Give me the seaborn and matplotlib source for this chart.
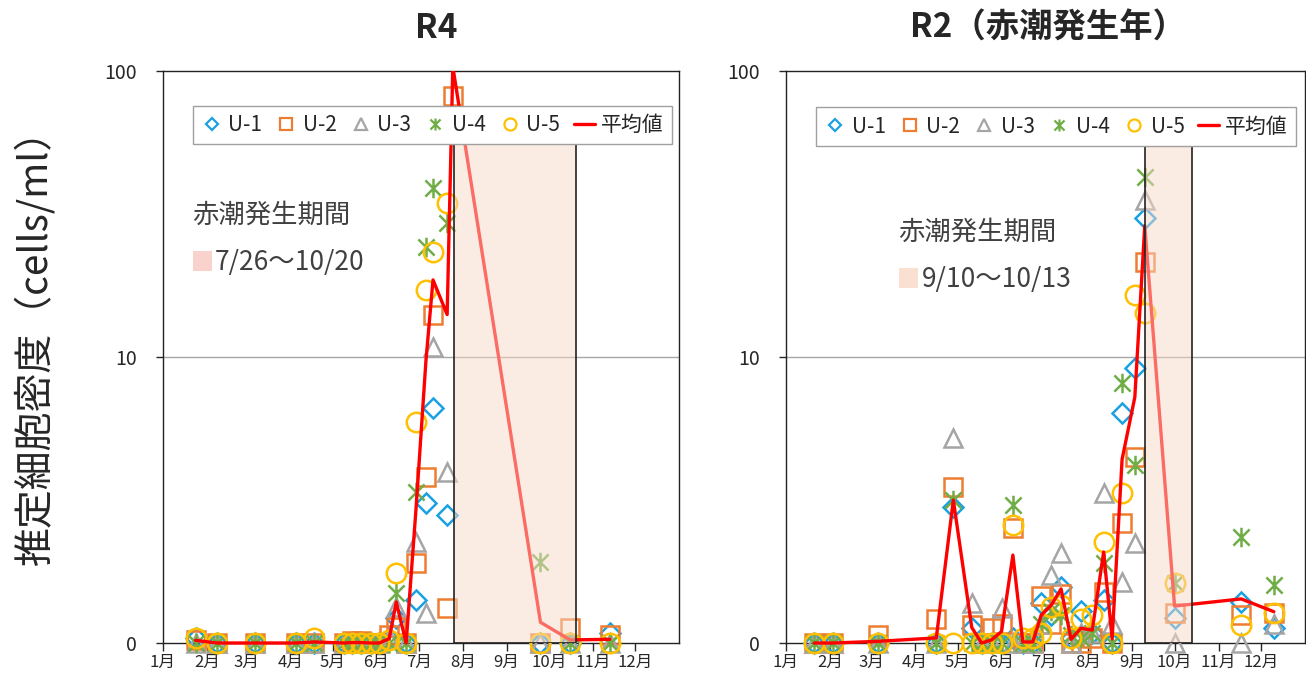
import numpy as np
import pandas as pd
import matplotlib.pyplot as plt
import seaborn as sns
import matplotlib.dates as mdates
import matplotlib.ticker as mticker
import matplotlib.transforms as mtrans
from matplotlib.lines import Line2D
from matplotlib.patches import Rectangle
from matplotlib.path import Path

sns.set_theme(style='white')
plt.rcParams['font.family'] = ['Noto Sans CJK JP', 'DejaVu Sans']

SITES = ['U-1', 'U-2', 'U-3', 'U-4', 'U-5']

# R4 (2022)
r4_dates = ['01-24', '02-08', '03-07', '04-05', '04-18', '05-09', '05-15', '05-21',
            '05-28', '06-03', '06-10', '06-15', '06-22', '06-29', '07-06', '07-11',
            '07-21', '07-25', '09-25', '10-16', '11-13']
r4_u1 = [0.05, 0, 0, 0, 0, 0, 0, 0, 0, 0, 0.05, 0.27, 0, 0.49, 2.41, 6.35, 2.09, 65, 0, 0, 0.1]
r4_u2 = [0.03, 0, 0, 0, 0, 0, 0.02, 0.02, 0, 0, 0.08, 0.16, 0, 1.06, 3.22, 14.3, 0.39, 82, 0, 0.15, 0.08]
r4_u3 = [0, 0, 0, 0, 0, 0, 0, 0, 0, 0, 0.05, 0.40, 0, 1.47, 0.32, 10.9, 3.40, 70, 0, 0, 0]
r4_u4 = [0, 0, 0, 0, 0, 0, 0, 0, 0, 0, 0, 0.59, 0, 2.74, 24.9, 40.0, 30.3, 150, 1.08, 0, 0]
r4_u5 = [0.05, 0, 0, 0, 0.05, 0, 0, 0, 0, 0, 0.03, 0.89, 0, 5.58, 17.6, 23.9, 35.5, 150, 0, 0, 0]

# R2 (2020)
r2_dates = ['01-21', '02-03', '03-06', '04-16', '04-28', '05-11', '05-18', '05-25',
            '06-01', '06-09', '06-16', '06-23', '06-29', '07-06', '07-13', '07-20',
            '07-27', '08-04', '08-12', '08-18', '08-25', '09-03', '09-10', '10-01',
            '11-17', '12-10']
r2_u1 = [0, 0, 0, 0, 2.3, 0.15, 0, 0, 0, 0.05, 0, 0, 0.45, 0.3, 0.67, 0.05, 0.35, 0.1,
         0.49, 0, 6.06, 9.1, 31.5, 0.27, 0.46, 0.15]
r2_u2 = [0, 0, 0.08, 0.25, 2.9, 0.19, 0, 0.15, 0.2, 1.78, 0, 0, 0.55, 0.2, 0.57, 0, 0, 0.05,
         0.6, 0, 1.89, 3.97, 22.1, 0.32, 0.30, 0.33]
r2_u3 = [0, 0, 0, 0, 4.8, 0.45, 0, 0, 0.38, 0, 0, 0, 0.2, 0.85, 1.25, 0, 0.1, 0.1,
         2.71, 0.2, 0.75, 1.45, 36.3, 0, 0, 0.2]
r2_u4 = [0, 0, 0, 0, 2.5, 0, 0, 0, 0, 2.36, 0, 0, 0.2, 0.35, 0.3, 0.08, 0.05, 0.1,
         1.06, 0, 7.96, 3.66, 43.6, 0.73, 1.57, 0.70]
r2_u5 = [0, 0, 0, 0, 0, 0, 0, 0, 0, 1.84, 0.05, 0.05, 0.1, 0.4, 0.43, 0.05, 0.25, 0.3,
         1.47, 0, 2.71, 16.9, 14.5, 0.73, 0.19, 0.32]

COLORS = ['#1BA1E2', '#ED7D31', '#A5A5A5', '#70AD47', '#FFC000']
MEAN_COLOR = '#FF0000'

star = Path([(-0.5, -0.5), (0.5, 0.5), (-0.5, 0.5), (0.5, -0.5), (0, -0.6), (0, 0.6)],
            [Path.MOVETO, Path.LINETO, Path.MOVETO, Path.LINETO, Path.MOVETO, Path.LINETO])
MARKERS = ['D', 's', '^', star, 'o']
MSIZES = [10, 13, 13, 14, 14]


def build(dates, year, cols):
    df = pd.DataFrame({'date': pd.to_datetime([f'{year}-{d}' for d in dates])})
    for s, v in zip(SITES, cols):
        df[s] = v
    df['mean'] = df[SITES].mean(axis=1)
    return df


def fwd(y):
    with np.errstate(invalid='ignore', divide='ignore'):
        return np.log10(np.asarray(y) + 1.25)


def inv(t):
    return 10 ** np.asarray(t) - 1.25


def draw(ax, df, year, bloom, label, sq_color, legend_box, note_xy):
    for s, c, m, ms in zip(SITES, COLORS, MARKERS, MSIZES):
        sns.lineplot(data=df, x='date', y=s, ax=ax, estimator=None, linestyle='none',
                     marker=m, markersize=ms, markerfacecolor='none',
                     markeredgecolor=c, markeredgewidth=1.8, color=c, zorder=3)
    sns.lineplot(data=df, x='date', y='mean', ax=ax, estimator=None, color=MEAN_COLOR,
                 linewidth=2.4, zorder=4)
    clip = Rectangle((0, -0.08), 1, 1.08, transform=ax.transAxes)
    for ln in ax.lines:
        ln.set_clip_path(clip)

    ax.set_yscale('function', functions=(fwd, inv))
    ax.set_ylim(0, 100)
    ax.set_yticks([0, 10, 100])
    ax.yaxis.set_major_formatter(mticker.FuncFormatter(lambda v, p: f'{v:g}'))
    ax.yaxis.set_minor_locator(mticker.NullLocator())
    ax.axhline(10, color='#A6A6A6', lw=1, zorder=1)

    ax.set_xlim(pd.Timestamp(f'{year}-01-01'), pd.Timestamp(f'{year + 1}-01-01'))
    month_starts = [mdates.date2num(pd.Timestamp(f'{year}-{m:02d}-01')) for m in range(1, 13)]
    ax.xaxis.set_major_locator(mticker.FixedLocator(month_starts))
    ax.xaxis.set_major_formatter(mticker.FuncFormatter(lambda v, p: f'{mdates.num2date(v).month}月'))
    ax.set_xlabel('')
    ax.set_ylabel('')
    ax.tick_params(axis='x', bottom=True, length=6, width=1, labelsize=12, pad=2)
    ax.tick_params(axis='y', left=True, length=5, width=1, labelsize=14, pad=14)
    for sp in ax.spines.values():
        sp.set_color('#222222')
        sp.set_linewidth(1.0)

    # bloom period
    tr = mtrans.blended_transform_factory(ax.transData, ax.transAxes)
    x0 = mdates.date2num(pd.Timestamp(f'{year}-{bloom[0]}'))
    x1 = mdates.date2num(pd.Timestamp(f'{year}-{bloom[1]}'))
    ax.add_patch(Rectangle((x0, 0), x1 - x0, bloom[2], transform=tr,
                           facecolor=(0.969, 0.851, 0.788, 0.5), edgecolor='#222222',
                           linewidth=1.2, zorder=5))

    nx, ny = note_xy
    ax.text(nx, ny, '赤潮発生期間', transform=ax.transAxes, fontsize=19,
            color='#404040', va='center', ha='left')
    ax.add_patch(Rectangle((nx + 0.002, ny - 0.098), 0.036, 0.035, transform=ax.transAxes,
                           facecolor=sq_color, edgecolor='none', zorder=5))
    ax.text(nx + 0.045, ny - 0.082, f'{label}', transform=ax.transAxes, fontsize=19,
            color='#404040', va='center', ha='left')

    handles = [Line2D([], [], linestyle='none', marker=m, markersize=ms * 0.62,
                      markerfacecolor='none', markeredgecolor=c, markeredgewidth=1.6)
               for c, m, ms in zip(COLORS, MARKERS, MSIZES)]
    handles.append(Line2D([], [], color=MEAN_COLOR, linewidth=2.4))
    leg = ax.legend(handles, SITES + ['平均値'], ncol=6, mode='expand',
                    bbox_to_anchor=legend_box, loc='lower left', fontsize=15,
                    frameon=True, fancybox=False, framealpha=1, edgecolor='#A0A0A0',
                    handlelength=1.0, handletextpad=0.3, columnspacing=0.6,
                    borderaxespad=0, borderpad=0.4)
    leg.get_frame().set_linewidth(1.0)
    leg.set_zorder(10)


fig = plt.figure(figsize=(13.06, 6.81), dpi=100)
ax1 = fig.add_axes([163 / 1306, 38 / 681, 516 / 1306, 572 / 681])
ax2 = fig.add_axes([786 / 1306, 38 / 681, 519 / 1306, 572 / 681])

df4 = build(r4_dates, 2022, [r4_u1, r4_u2, r4_u3, r4_u4, r4_u5])
df2 = build(r2_dates, 2020, [r2_u1, r2_u2, r2_u3, r2_u4, r2_u5])

draw(ax1, df4, 2022, ('07-26', '10-20', 0.876), '7/26～10/20', '#F9D2CD',
     (0.058, 0.872, 0.928, 0.09), (0.056, 0.748))
draw(ax2, df2, 2020, ('09-10', '10-13', 0.869), '9/10～10/13', '#F9E0D0',
     (0.058, 0.869, 0.925, 0.087), (0.216, 0.718))

fig.text(436 / 1306, 1 - 28 / 681, 'R4', fontsize=24, fontweight='bold', ha='center', va='center')
fig.text(1048 / 1306, 1 - 28 / 681, 'R2（赤潮発生年）', fontsize=24, fontweight='bold',
         ha='center', va='center')
fig.text(35 / 1306, 1 - 337 / 681, '推定細胞密度（cells/ml）', fontsize=28, rotation=90,
         ha='center', va='center')

fig.savefig('out.png', dpi=100)
